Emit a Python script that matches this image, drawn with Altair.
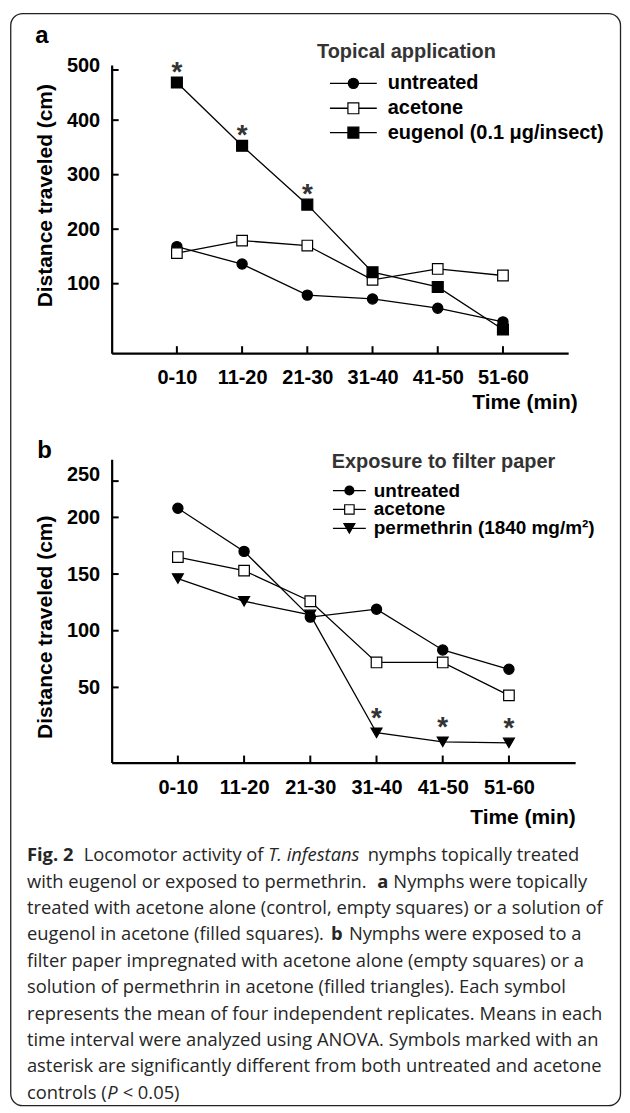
import altair as alt
import pandas as pd

# ---------------- data ----------------
times = ["0-10", "11-20", "21-30", "31-40", "41-50", "51-60"]

a_title = "Topical application"
a_series = ["untreated", "acetone", "eugenol (0.1 μg/insect)"]
a_untreated = [168, 136, 79, 72, 55, 30]
a_acetone = [156, 179, 170, 107, 127, 115]
a_eugenol = [469, 353, 245, 121, 94, 16]
a_eugenol_sig = [True, True, True, False, False, False]
a_ytick_labels = [100, 200, 300, 400, 500]
a_ytick_marks = [100, 200, 300, 400, 492]

b_title = "Exposure to filter paper"
b_series = ["untreated", "acetone", "permethrin (1840 mg/m²)"]
b_untreated = [208, 170, 112, 119, 83, 66]
b_acetone = [165, 153, 126, 72, 72, 43]
b_permethrin = [146, 126, 114, 10, 2, 1]
b_permethrin_sig = [False, False, False, True, True, True]
b_ytick_values = [50, 100, 150, 200, 238]
b_ytick_text = ["50", "100", "150", "200", "250"]
b_ytick_marks = [50, 100, 150, 200, 232]

caption_lines = [
    [("Fig. 2", "bold"), ("Locomotor activity of", "normal"), ("T. infestans", "italic"), ("nymphs topically treated", "normal")],
    [("with eugenol or exposed to permethrin.", "normal"), ("a", "bold"), ("Nymphs were topically", "normal")],
    [("treated with acetone alone (control, empty squares) or a solution of", "normal")],
    [("eugenol in acetone (filled squares).", "normal"), ("b", "bold"), ("Nymphs were exposed to a", "normal")],
    [("filter paper impregnated with acetone alone (empty squares) or a", "normal")],
    [("solution of permethrin in acetone (filled triangles). Each symbol", "normal")],
    [("represents the mean of four independent replicates. Means in each", "normal")],
    [("time interval were analyzed using ANOVA. Symbols marked with an", "normal")],
    [("asterisk are significantly different from both untreated and acetone", "normal")],
    [("controls (", "normal"), ("P", "italic"), ("< 0.05)", "normal")],
]
# segment start positions (page px)
caption_x = [[26, 83, 268, 368], [26, 377.5, 393.6], [26], [26, 331, 349],
             [26], [26], [26], [26], [26], [26, 106.5, 122]]

# ---------------- layout / style ----------------
FONT = "Liberation Sans"
CAP_FONT = "Open Sans"
CAP_SIZE = 18.4
VIEW_LEFT = 111
SPACING = 106.3


def long_df(series, vals, sigs):
    rows = []
    for s, v, g in zip(series, vals, sigs):
        for t, y, k in zip(times, v, g):
            rows.append({"time": t, "series": s, "value": y, "sig": k})
    return pd.DataFrame(rows)


df_a = long_df(a_series, [a_untreated, a_acetone, a_eugenol],
               [[False] * 6, [False] * 6, a_eugenol_sig])
df_b = long_df(b_series, [b_untreated, b_acetone, b_permethrin],
               [[False] * 6, [False] * 6, b_permethrin_sig])

one = pd.DataFrame({"k": [0]})


def make_panel(df, series, shapes, fills, sizes, ydomain, width, height,
               ylab_vals, ylab_expr, ytick_marks, xlab_pad, xtitle, ytitle,
               legend_title, legend_title_xy, legend_rows_y, legend_line,
               legend_sym_x, legend_text_x, legend_sizes, legend_fs,
               letter, letter_xy, star_dy, border=None):
    xs = alt.Scale(type="point", domain=times, padding=1)
    ys = alt.Scale(domain=ydomain, nice=False, zero=False)
    xax = alt.Axis(title="Time (min)", domainColor="black", domainWidth=2.2,
                   ticks=False, tickSize=0, grid=False, labelAngle=0,
                   labelFont=FONT, labelFontWeight="bold", labelFontSize=20,
                   labelColor="black", labelPadding=xlab_pad,
                   titleFont=FONT, titleFontWeight="bold", titleFontSize=21,
                   titleColor="black", titleX=xtitle[0], titleY=xtitle[1],
                   titleAlign="right", titleBaseline="middle")
    yax_kw = dict(title="Distance traveled (cm)", values=ylab_vals,
                  domainColor="black", domainWidth=2.2, ticks=False, tickSize=0,
                  grid=False, labelFont=FONT, labelFontWeight="bold",
                  labelFontSize=20, labelColor="black", labelPadding=12,
                  titleFont=FONT, titleFontWeight="bold", titleFontSize=21,
                  titleColor="black", titleX=ytitle[0], titleY=ytitle[1],
                  titleAngle=270, titleAlign="center", titleBaseline="middle")
    if ylab_expr:
        yax_kw["labelExpr"] = ylab_expr
    yax = alt.Axis(**yax_kw)

    X = alt.X("time:O", scale=xs, axis=xax)
    Y = alt.Y("value:Q", scale=ys, axis=yax)

    base = alt.Chart(df)
    lines = base.mark_line(color="black", strokeWidth=1.3).encode(
        x=X, y=Y, detail="series:N", order=alt.Order("time:O"))
    pts = base.mark_point(filled=True, opacity=1, stroke="black", strokeWidth=1.2).encode(
        x=X, y=Y,
        shape=alt.Shape("series:N", scale=alt.Scale(domain=series, range=shapes), legend=None),
        fill=alt.Fill("series:N", scale=alt.Scale(domain=series, range=fills), legend=None),
        size=alt.Size("series:N", scale=alt.Scale(domain=series, range=sizes), legend=None))
    stars = base.transform_filter("datum.sig").mark_text(
        text="*", font=FONT, fontWeight="bold", fontSize=28, color="#333",
        baseline="alphabetic", align="center", dy=star_dy).encode(x=X, y=Y)

    xticks = alt.Chart(pd.DataFrame({"time": times})).mark_rule(
        color="black", strokeWidth=2).encode(x=X, y=alt.value(height), y2=alt.value(height - 7))
    yticks = alt.Chart(pd.DataFrame({"value": ytick_marks})).mark_rule(
        color="black", strokeWidth=2).encode(y=Y, x=alt.value(0), x2=alt.value(7))

    layers = [xticks, yticks, lines, pts, stars]

    layers.append(alt.Chart(one).mark_text(
        text=legend_title, font=FONT, fontWeight="bold", fontSize=20, color="#333",
        align="left", baseline="middle").encode(
        x=alt.value(legend_title_xy[0]), y=alt.value(legend_title_xy[1])))
    for i, s in enumerate(series):
        yr = legend_rows_y[i]
        layers.append(alt.Chart(one).mark_rule(color="black", strokeWidth=1.3).encode(
            x=alt.value(legend_line[0]), x2=alt.value(legend_line[1]), y=alt.value(yr)))
        layers.append(alt.Chart(one).mark_point(
            shape=shapes[i], filled=True, fill=fills[i], stroke="black", strokeWidth=1.2,
            size=legend_sizes[i], opacity=1).encode(x=alt.value(legend_sym_x), y=alt.value(yr)))
        layers.append(alt.Chart(one).mark_text(
            text=s, font=FONT, fontWeight="bold", fontSize=legend_fs, color="black",
            align="left", baseline="middle").encode(x=alt.value(legend_text_x), y=alt.value(yr)))

    layers.append(alt.Chart(one).mark_text(
        text=letter, font=FONT, fontWeight="bold", fontSize=24, color="black",
        align="center", baseline="middle").encode(x=alt.value(letter_xy[0]), y=alt.value(letter_xy[1])))

    if border:
        layers.append(alt.Chart(one).mark_rect(
            fillOpacity=0, stroke="#222", strokeWidth=1.3, cornerRadius=12).encode(
            x=alt.value(border[0]), x2=alt.value(border[1]),
            y=alt.value(border[2]), y2=alt.value(border[3])))

    return alt.layer(*layers).properties(width=width, height=height)


panel_a = make_panel(
    df_a, a_series, ["circle", "square", "square"], ["black", "white", "black"], [105, 120, 120],
    [-27.5, 501], 458, 289, a_ytick_labels, None, a_ytick_marks,
    14, (467, 50), (-66, 130.5),
    a_title, (206, -13), [18.3, 43.3, 67.7], (219, 266), 242.5, 277, [105, 120, 120], 20,
    "a", (-70, -29), -2,
    border=(-101.25, 510.5, -51.75, 1044))

b_label_expr = "{}[indexof({}, datum.value)]".format(
    "[" + ",".join("'%s'" % t for t in b_ytick_text) + "]",
    "[" + ",".join(str(v) for v in b_ytick_values) + "]")

panel_b = make_panel(
    df_b, b_series, ["circle", "square", "triangle-down"], ["black", "white", "black"], [105, 120, 150],
    [-16.3, 251.4], 465, 304.4, b_ytick_values, b_label_expr, b_ytick_marks,
    15, (465, 55.3), (-66, 168.2),
    b_title, (220.7, 3.4), [31.5, 50.5, 69.5], (222, 255), 238.5, 263, [80, 90, 120], 19,
    "b", (-67.3, -8.6), -6)

# caption
cap_rows = []
for li, (segs, xs_) in enumerate(zip(caption_lines, caption_x)):
    for (txt, sty), xp in zip(segs, xs_):
        cap_rows.append({"text": txt, "style": sty, "line": li, "x": xp - VIEW_LEFT})
df_cap = pd.DataFrame(cap_rows)

cap_top = 762.7 + SPACING
cap_y0 = 855 - cap_top
cap_base = alt.Chart(df_cap).encode(
    x=alt.X("x:Q", scale=None, axis=None),
    y=alt.Y("line:Q", scale=alt.Scale(domain=[0, 9], range=[cap_y0, cap_y0 + 26.5 * 9]), axis=None),
    text="text:N")
cap_reg = cap_base.transform_filter("datum.style == 'normal'").mark_text(
    align="left", baseline="middle", font=CAP_FONT, fontSize=CAP_SIZE, color="#262626")
cap_bold = cap_base.transform_filter("datum.style == 'bold'").mark_text(
    align="left", baseline="middle", font=CAP_FONT, fontSize=CAP_SIZE, color="#262626", fontWeight="bold")
cap_ital = cap_base.transform_filter("datum.style == 'italic'").mark_text(
    align="left", baseline="middle", font=CAP_FONT, fontSize=CAP_SIZE, color="#262626", fontStyle="italic")
caption = alt.layer(cap_reg, cap_bold, cap_ital).properties(width=400, height=240)

chart = alt.vconcat(panel_a, panel_b, caption, spacing=SPACING, bounds="flush").resolve_scale(
    shape="independent", fill="independent", size="independent"
).properties(
    padding={"left": 1, "top": 2.5, "right": 0, "bottom": 0}
).configure_view(stroke="transparent")

chart.save("out.html", embed_options={"renderer": "svg", "actions": False})
